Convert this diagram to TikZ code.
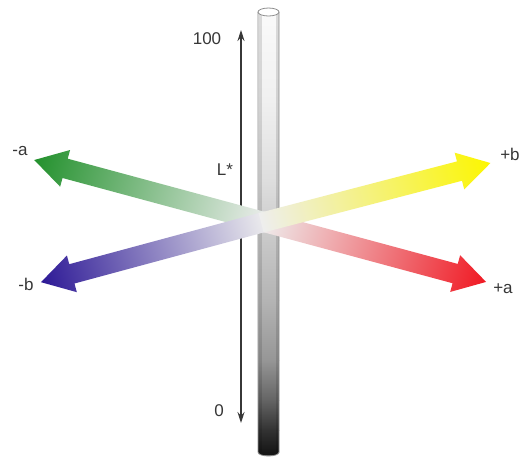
\documentclass[tikz,border=0pt]{standalone}
\usepackage{fontspec}
\setmainfont{Liberation Sans}
\usetikzlibrary{arrows.meta}
\definecolor{lab}{RGB}{55,55,55}
\definecolor{ag}{RGB}{35,145,45}
\definecolor{ab}{RGB}{45,25,150}
\definecolor{ay}{RGB}{252,246,0}
\definecolor{ar}{RGB}{240,25,35}
\definecolor{mid}{RGB}{238,238,238}
\definecolor{cyledge}{RGB}{140,140,140}
\definecolor{gA}{RGB}{250,250,250}
\definecolor{gB}{RGB}{240,240,240}
\definecolor{gC}{RGB}{222,222,222}
\definecolor{gD}{RGB}{200,200,200}
\definecolor{gE}{RGB}{180,180,180}
\definecolor{gF}{RGB}{150,150,150}
\definecolor{gG}{RGB}{100,100,100}
\definecolor{gH}{RGB}{50,50,50}
\definecolor{gI}{RGB}{22,22,22}
\newcommand\labarrow[3]{%
\begin{scope}[transform canvas={shift={(264,222)}, rotate=#1}]
\shade[x=1pt,y=1pt,left color=mid,middle color=#3!45!mid,right color=#3]
  (-3,-10) -- ({#2-32},-10) -- ({#2-32},-19) -- (#2,0) -- ({#2-32},19) -- ({#2-32},10) -- (-3,10) -- cycle;
\end{scope}}
\newcommand\cylseg[4]{\shade[top color=#3,bottom color=#4] (258,#1) rectangle (279,#2);}
\begin{document}
\begin{tikzpicture}[x=1pt,y=-1pt,
  lbl/.style={text=lab, font=\fontsize{17}{17}\selectfont, inner sep=0pt}]
\useasboundingbox[fill=white] (0,0) rectangle (529,459);
% cylinder body
\cylseg{12}{100.5}{gA}{gB}
\cylseg{100}{180.5}{gB}{gC}
\cylseg{180}{240.5}{gC}{gD}
\cylseg{240}{300.5}{gD}{gE}
\cylseg{300}{360.5}{gE}{gF}
\cylseg{360}{400.5}{gF}{gG}
\cylseg{400}{430.5}{gG}{gH}
\cylseg{430}{452.5}{gH}{gI}
\fill[gI] (258,452) .. controls (258,457.3) and (279,457.3) .. (279,452) -- cycle;
\draw[black, opacity=0.12, line width=3pt] (260,14) -- (260,452) (277,14) -- (277,452);
\draw[cyledge, line width=0.8pt] (258,12) -- (258,452) .. controls (258,457.3) and (279,457.3) .. (279,452) -- (279,12);
\draw[cyledge, fill=white, line width=0.8pt] (268.5,12) ellipse [x radius=10.5, y radius=4];
% L* axis
\coordinate (Ltop) at (241,30);
\coordinate (Lbot) at (241,423);
\draw[lab, line width=1.3pt, {Stealth[length=11pt,width=7pt]}-{Stealth[length=11pt,width=7pt]}] (Lbot) -- (Ltop);
% colour arrows
\labarrow{164.9}{238}{ag}
\labarrow{-15.1}{230}{ar}
\labarrow{195.1}{231}{ab}
\labarrow{14.6}{234}{ay}
% labels
\node[lbl] (l100) at (207,39) {100};
\node[lbl] (lL) at (225,170) {L*};
\node[lbl] (l0) at (219,411) {0};
\node[lbl] (lma) at (20,151) {-a};
\node[lbl] (lmb) at (26,284) {-b};
\node[lbl] (lpb) at (510,154) {+b};
\node[lbl] (lpa) at (503,289) {+a};
\end{tikzpicture}
\end{document}
